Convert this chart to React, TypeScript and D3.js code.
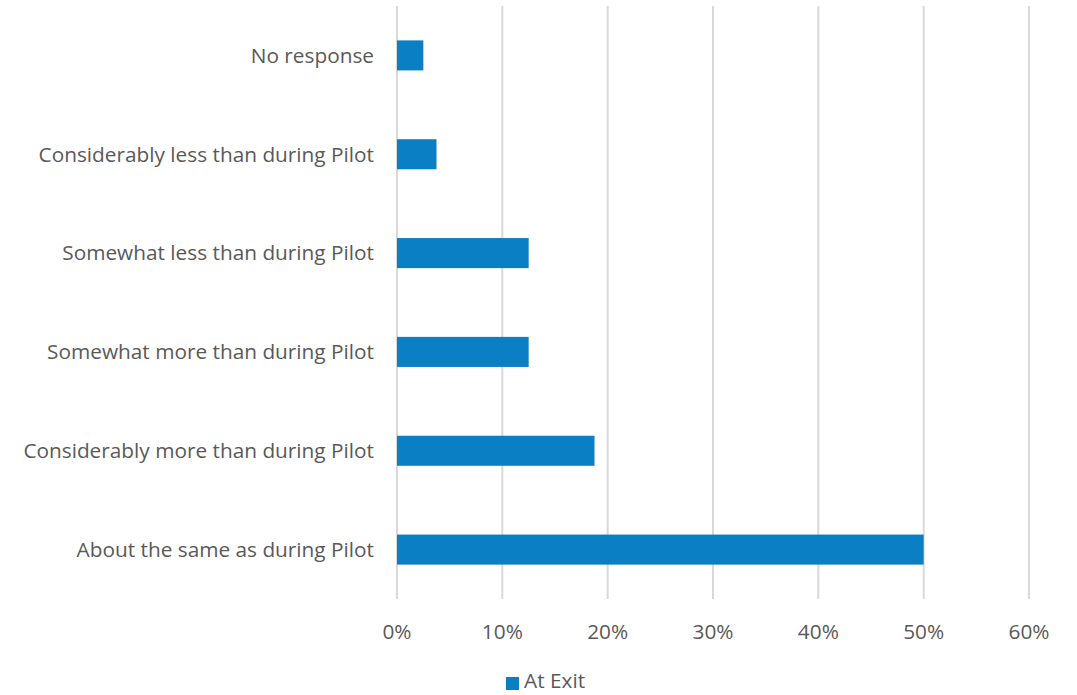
import React from "react";
import * as d3 from "d3";

const categories = [
  "No response",
  "Considerably less than during Pilot",
  "Somewhat less than during Pilot",
  "Somewhat more than during Pilot",
  "Considerably more than during Pilot",
  "About the same as during Pilot",
];
const values = [2.5, 3.75, 12.5, 12.5, 18.75, 50];
const ticks = [0, 10, 20, 30, 40, 50, 60];
const seriesName = "At Exit";

const W = 1077;
const H = 695;
const FONT = "'Open Sans', sans-serif";
const TEXT = "#595959";
const BLUE = "#0A7FC3";
const FS = 20.8;

export default function App() {
  const x = d3.scaleLinear().domain([0, 60]).range([397, 1029]);
  const y = d3.scaleBand<string>().domain(categories).range([6, 599]).paddingInner(0.696).paddingOuter(0.348);
  return (
    <svg width={W} height={H} style={{ position: "absolute", left: 0, top: 0 }}>
      <rect width={W} height={H} fill="#fff" />
      {ticks.map((t) => (
        <g key={t}>
          <line x1={x(t)} x2={x(t)} y1={6} y2={599} stroke="#D9D9D9" strokeWidth={2} />
          <text x={x(t)} y={639} textAnchor="middle" fontFamily={FONT} fontSize={FS} fill={TEXT}>
            {t}%
          </text>
        </g>
      ))}
      {categories.map((c, i) => (
        <g key={c}>
          <rect x={x(0)} y={y(c)!} width={x(values[i]) - x(0)} height={y.bandwidth()} fill={BLUE} />
          <text
            x={374}
            y={y(c)! + y.bandwidth() / 2}
            dy="0.35em"
            textAnchor="end"
            fontFamily={FONT}
            fontSize={FS}
            fill={TEXT}
          >
            {c}
          </text>
        </g>
      ))}
      <rect x={506} y={677} width={13} height={13} fill={BLUE} />
      <text x={524} y={688} fontFamily={FONT} fontSize={FS} fill={TEXT}>
        {seriesName}
      </text>
    </svg>
  );
}
